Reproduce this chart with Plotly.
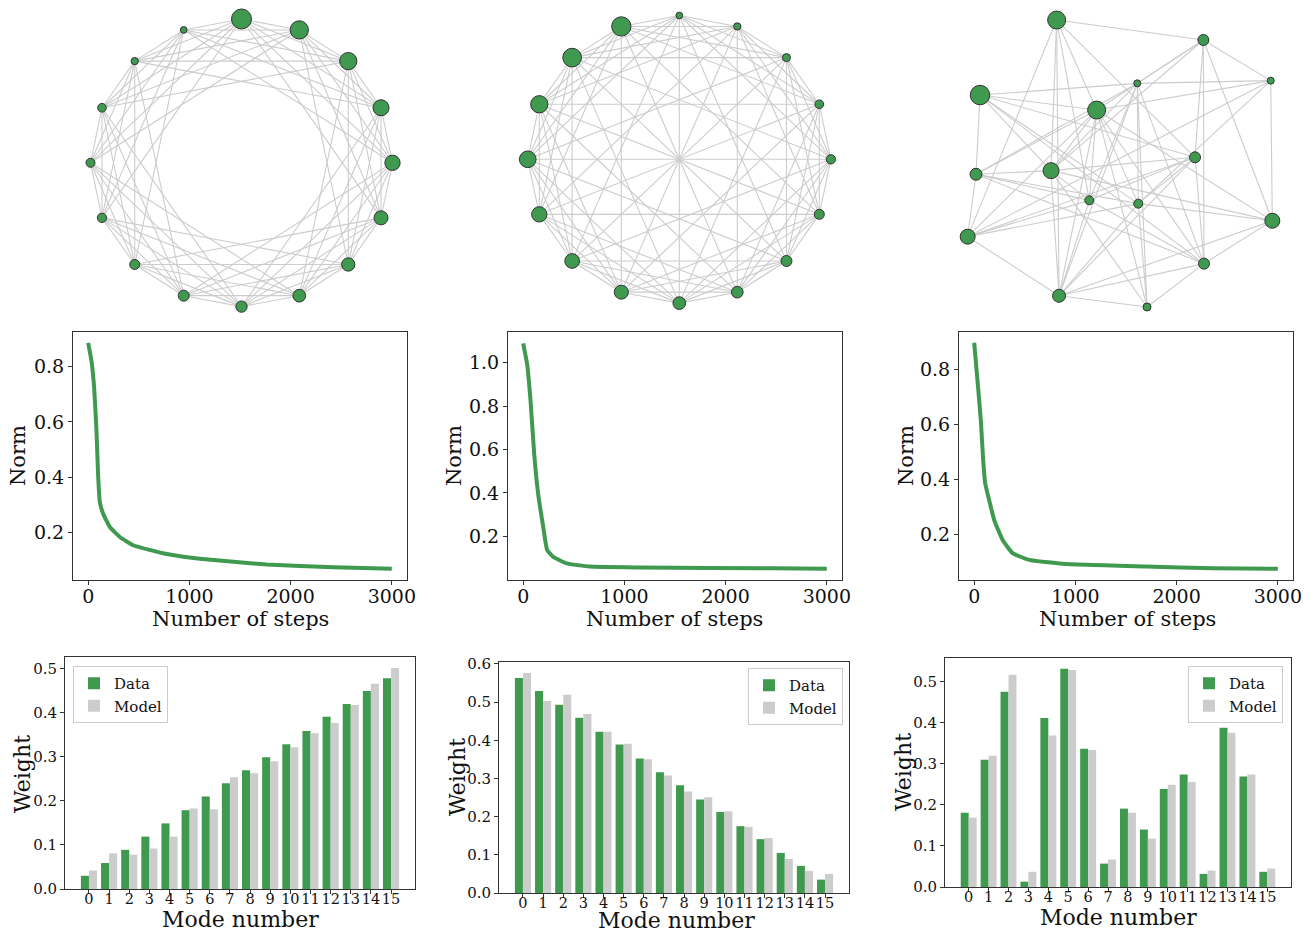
import math
import plotly.graph_objects as go

W, H = 1315, 933
GREEN = "#3f9a50"
BARGRAY = "#cccccc"
EDGE = "#cccccc"
FRAME = "#333333"
FONT = "DejaVu Serif"

# ---------------- data ----------------
# Graph 1 (circular layout, circulant-like connectivity)
g1_node_size = [15.3, 16, 17.3, 18.3, 20, 6.7, 7.3, 8.7, 9, 9.3, 10, 11, 11.3, 12.7, 13.3, 14]
g1_offsets = [1, 2, 3, 4, 5]
# Graph 2 (circular layout)
g2_node_size = [9.3, 8.7, 8, 7.3, 6.7, 19.3, 18.7, 17.3, 16.7, 15.3, 14.7, 14, 12.7, 11.7, 11, 10]
g2_offsets = [1, 2, 3, 4, 6, 8]
# Graph 3 (spring-like layout)
g3_x = [-0.396, 0.521, 0.942, 0.108, -0.875, -0.146, 0.469, -0.900, -0.431, -0.192, 0.114, 0.952, -0.952, 0.525, -0.381, 0.169]
g3_y = [0.933, 0.800, 0.529, 0.511, 0.433, 0.333, 0.018, -0.095, -0.071, -0.269, -0.291, -0.405, -0.511, -0.691, -0.905, -0.980]
g3_node_size = [18, 11, 7, 7, 19.5, 18, 11, 12, 16, 9, 9, 15, 15, 11, 13, 8]
g3_edges = [
    (0, 1), (0, 5), (0, 6), (0, 8), (0, 9), (0, 14), (0, 12),
    (1, 2), (1, 3), (1, 5), (1, 8), (1, 6), (1, 11), (1, 13),
    (2, 3), (2, 5), (2, 11), (2, 12), (2, 10),
    (3, 4), (3, 7), (3, 10), (3, 15), (3, 13), (3, 9), (3, 14), (3, 8),
    (4, 5), (4, 7), (4, 8), (4, 6), (4, 13), (4, 10),
    (5, 7), (5, 8), (5, 9), (5, 10), (5, 12), (5, 14), (5, 15), (5, 13), (5, 11),
    (6, 8), (6, 10), (6, 13), (6, 12), (6, 9), (6, 14),
    (7, 12), (7, 8), (7, 10), (7, 13), (7, 9),
    (8, 14), (8, 9), (8, 11), (8, 15),
    (9, 12), (9, 14), (9, 13),
    (10, 11), (10, 12), (10, 15), (10, 14),
    (11, 13), (11, 14),
    (12, 14), (13, 14), (13, 15), (14, 15),
]

# Norm curves
n1_steps = [0, 33, 59, 82, 99, 115, 148, 214, 313, 445, 775, 1104, 1764, 2423, 3000]
n1_norm = [0.887, 0.820, 0.724, 0.568, 0.400, 0.309, 0.267, 0.219, 0.183, 0.153, 0.121, 0.104, 0.083, 0.073, 0.068]
n2_steps = [0, 40, 73, 109, 148, 198, 237, 297, 429, 659, 1154, 2473, 3000]
n2_norm = [1.090, 0.991, 0.823, 0.579, 0.395, 0.243, 0.136, 0.105, 0.075, 0.060, 0.056, 0.052, 0.050]
n3_steps = [0, 33, 66, 89, 109, 148, 198, 280, 379, 544, 874, 1698, 2357, 3000]
n3_norm = [0.898, 0.759, 0.614, 0.470, 0.386, 0.325, 0.253, 0.181, 0.133, 0.108, 0.094, 0.084, 0.078, 0.076]

# Mode weights
modes = list(range(16))
b1_data = [0.030, 0.059, 0.089, 0.119, 0.149, 0.179, 0.210, 0.240, 0.270, 0.299, 0.329, 0.359, 0.391, 0.420, 0.450, 0.479]
b1_model = [0.042, 0.081, 0.078, 0.092, 0.119, 0.183, 0.181, 0.254, 0.263, 0.290, 0.322, 0.354, 0.377, 0.418, 0.466, 0.502]
b2_data = [0.563, 0.529, 0.493, 0.459, 0.422, 0.389, 0.352, 0.316, 0.282, 0.245, 0.212, 0.175, 0.141, 0.105, 0.071, 0.035]
b2_model = [0.576, 0.503, 0.519, 0.469, 0.422, 0.391, 0.350, 0.308, 0.266, 0.251, 0.214, 0.173, 0.144, 0.089, 0.058, 0.050]
b3_data = [0.181, 0.310, 0.476, 0.013, 0.412, 0.532, 0.337, 0.057, 0.191, 0.140, 0.239, 0.274, 0.032, 0.388, 0.269, 0.037]
b3_model = [0.169, 0.320, 0.517, 0.037, 0.369, 0.529, 0.334, 0.067, 0.181, 0.118, 0.249, 0.256, 0.040, 0.376, 0.274, 0.045]


# ---------------- helpers ----------------
def dom_x(a, b):
    return [a / W, b / W]


def dom_y(top, bottom):
    return [max(0, 1 - bottom / H), min(1, 1 - top / H)]


def circ_pos(n):
    xs = [math.cos(2 * math.pi * i / n) for i in range(n)]
    ys = [math.sin(2 * math.pi * i / n) for i in range(n)]
    return xs, ys


def circulant_edges(n, offsets):
    es = set()
    for i in range(n):
        for k in offsets:
            j = (i + k) % n
            es.add(tuple(sorted((i, j))))
    return sorted(es)


def edge_xy(xs, ys, edges):
    ex, ey = [], []
    for a, b in edges:
        ex += [xs[a], xs[b], None]
        ey += [ys[a], ys[b], None]
    return ex, ey


fig = go.Figure()
layout = dict(
    template="none",
    width=W, height=H, margin=dict(l=0, r=0, t=0, b=0, pad=0, autoexpand=False),
    paper_bgcolor="white", plot_bgcolor="white",
    font=dict(family=FONT, color="#111111"),
    barmode="group", bargap=0.2, bargroupgap=0.0,
    showlegend=True,
)

graphs = []
x1, y1 = circ_pos(16)
graphs.append((x1, y1, g1_node_size, circulant_edges(16, g1_offsets)))
x2, y2 = circ_pos(16)
graphs.append((x2, y2, g2_node_size, circulant_edges(16, g2_offsets)))
graphs.append((g3_x, g3_y, g3_node_size, g3_edges))

graph_boxes = [
    ((75.4, 407.6), (4.6, 321.0), 1.1),
    ((512.6, 846.0), (1.1, 317.5), 1.1),
    ((952.0, 1288.0), (2.5, 317.5), 1.05),
]

for gi, ((xs, ys, sz, edges), (bx, by, rr)) in enumerate(zip(graphs, graph_boxes)):
    ax = gi + 1
    xa = "x" if ax == 1 else f"x{ax}"
    ya = "y" if ax == 1 else f"y{ax}"
    ex, ey = edge_xy(xs, ys, edges)
    fig.add_trace(go.Scatter(x=ex, y=ey, mode="lines", line=dict(color=EDGE, width=1.1),
                             hoverinfo="skip", showlegend=False, xaxis=xa, yaxis=ya))
    fig.add_trace(go.Scatter(x=xs, y=ys, mode="markers",
                             marker=dict(size=sz, color=GREEN, opacity=1,
                                         line=dict(color="#333333", width=1)),
                             cliponaxis=False, showlegend=False, xaxis=xa, yaxis=ya))
    kx = "xaxis" if ax == 1 else f"xaxis{ax}"
    ky = "yaxis" if ax == 1 else f"yaxis{ax}"
    layout[kx] = dict(domain=dom_x(*bx), range=[-rr, rr], visible=False, anchor=ya, automargin=False)
    layout[ky] = dict(domain=dom_y(*by), range=[-rr, rr], visible=False, anchor=xa, automargin=False)

# ---------------- norm curves ----------------
line_sets = [(n1_steps, n1_norm), (n2_steps, n2_norm), (n3_steps, n3_norm)]
line_boxes = [((73, 407), (332, 580)), ((508, 842), (332, 580)), ((959, 1293), (332, 580))]
line_yranges = [[0.027, 0.926], [-0.002, 1.142], [0.035, 0.937]]
line_yticks = [[0.2, 0.4, 0.6, 0.8], [0.2, 0.4, 0.6, 0.8, 1.0], [0.2, 0.4, 0.6, 0.8]]

axis_common = dict(showline=True, mirror=True, linecolor=FRAME, linewidth=1,
                   ticks="outside", ticklen=4, tickcolor=FRAME, tickwidth=1,
                   showgrid=False, zeroline=False, automargin=False)

for li, ((sx, sy), (bx, by), yr, yt) in enumerate(zip(line_sets, line_boxes, line_yranges, line_yticks)):
    ax = li + 4
    xa, ya = f"x{ax}", f"y{ax}"
    fig.add_trace(go.Scatter(x=sx, y=sy, mode="lines",
                             line=dict(color=GREEN, width=4, shape="spline", smoothing=0.4),
                             showlegend=False, xaxis=xa, yaxis=ya))
    layout[f"xaxis{ax}"] = dict(domain=dom_x(*bx), range=[-150, 3150], tickvals=[0, 1000, 2000, 3000],
                                ticklabelstandoff=-5,
                                tickfont=dict(size=19, family=FONT, color="#111111"), anchor=ya, **axis_common)
    layout[f"yaxis{ax}"] = dict(domain=dom_y(*by), range=yr, tickvals=yt, tickformat=".1f",
                                tickfont=dict(size=19, family=FONT, color="#111111"), anchor=xa, **axis_common)

# ---------------- bar charts ----------------
bar_sets = [(b1_data, b1_model), (b2_data, b2_model), (b3_data, b3_model)]
bar_boxes = [((65, 415), (657, 889)), ((499, 849), (662, 893)), ((945, 1291), (658, 887))]
bar_yranges = [[0, 0.527], [0, 0.605], [0, 0.558]]
bar_yticks = [[0, 0.1, 0.2, 0.3, 0.4, 0.5], [0, 0.1, 0.2, 0.3, 0.4, 0.5, 0.6], [0, 0.1, 0.2, 0.3, 0.4, 0.5]]
legend_names = ["legend", "legend2", "legend3"]
legend_pos = [(73, 666, "left"), (843, 668, "right"), (1283, 666, "right")]

for bi, ((dd, mm), (bx, by), yr, yt) in enumerate(zip(bar_sets, bar_boxes, bar_yranges, bar_yticks)):
    ax = bi + 7
    xa, ya = f"x{ax}", f"y{ax}"
    lg = legend_names[bi]
    fig.add_trace(go.Bar(x=modes, y=dd, name="Data", marker=dict(color=GREEN, line=dict(width=0)),
                         xaxis=xa, yaxis=ya, legend=lg, offsetgroup=f"d{ax}"))
    fig.add_trace(go.Bar(x=modes, y=mm, name="Model", marker=dict(color=BARGRAY, line=dict(width=0)),
                         xaxis=xa, yaxis=ya, legend=lg, offsetgroup=f"m{ax}"))
    layout[f"xaxis{ax}"] = dict(domain=dom_x(*bx), range=[-1.19, 16.19], tickvals=modes, tickangle=0,
                                ticklabelstandoff=-7,
                                tickfont=dict(size=14.5, family=FONT, color="#111111"), anchor=ya, **axis_common)
    layout[f"yaxis{ax}"] = dict(domain=dom_y(*by), range=yr, tickvals=yt, tickformat=".1f",
                                tickfont=dict(size=15, family=FONT, color="#111111"), anchor=xa, **axis_common)
    lx, ly, side = legend_pos[bi]
    layout[lg] = dict(x=lx / W, y=1 - ly / H, xanchor=side, yanchor="top",
                      bgcolor="white", bordercolor="#cccccc", borderwidth=1,
                      font=dict(size=15, family=FONT, color="#111111"), tracegroupgap=2, itemwidth=30)

# ---------------- axis titles as annotations ----------------
ann = []


def add_title(text, cx, cy, size, angle=0):
    ann.append(dict(text=text, x=cx / W, y=1 - cy / H, xref="paper", yref="paper",
                    showarrow=False, xanchor="center", yanchor="middle", textangle=angle,
                    font=dict(size=size, family=FONT, color="#111111")))


for cx in [18, 454, 906]:
    add_title("Norm", cx, 456, 21, -90)
for cx in [240, 675, 1127]:
    add_title("Number of steps", cx, 619, 21)
for cx, cy in [(22, 774), (457, 777), (903, 772)]:
    add_title("Weight", cx, cy, 22, -90)
for cx, cy in [(240, 919), (676, 920), (1118, 917)]:
    add_title("Mode number", cx, cy, 22)

layout["annotations"] = ann
fig.update_layout(**layout)
fig.write_html("out.html", config={"displayModeBar": False},
               post_script="document.body.style.margin='0';document.body.style.overflow='hidden';")
